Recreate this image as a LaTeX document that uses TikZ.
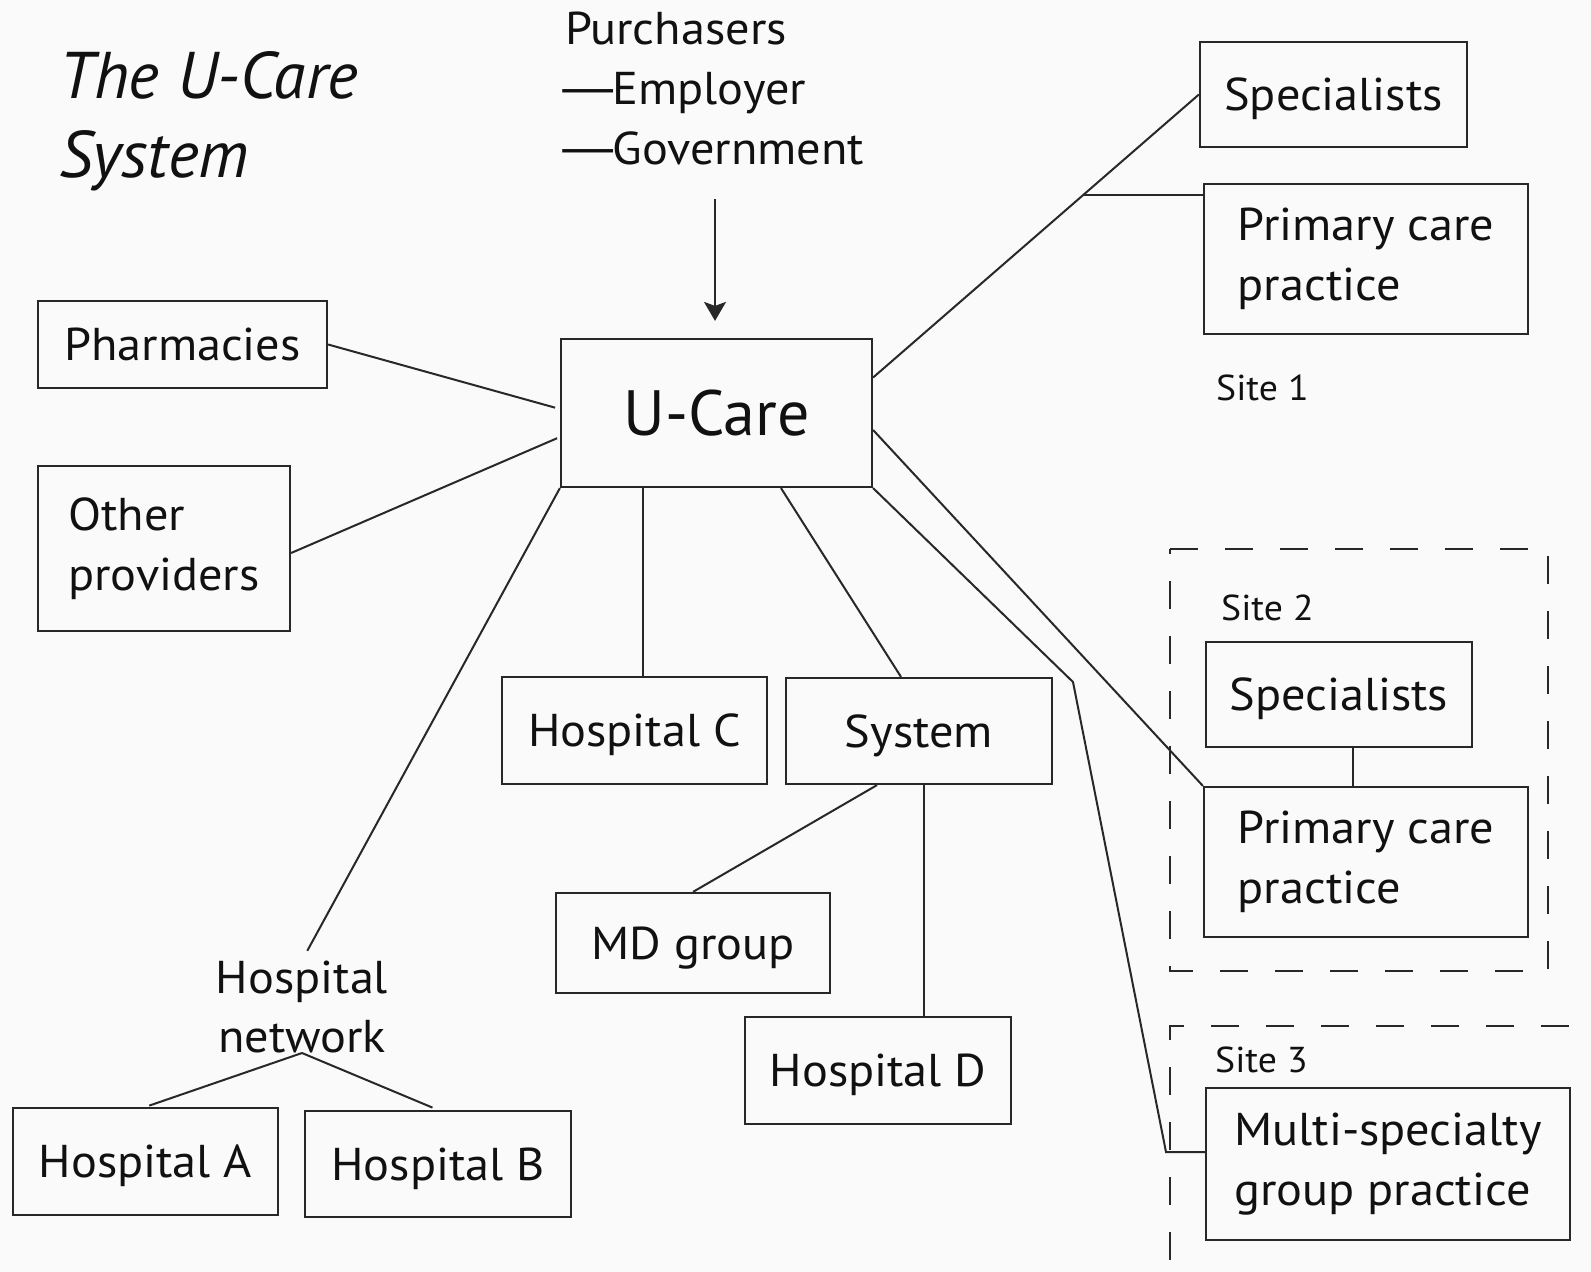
\documentclass[tikz,border=0pt]{standalone}
\usepackage{fontspec}
\usepackage{graphicx}
\setmainfont{PT Sans}[FakeStretch=1.05]
\newfontfamily\plainfam{PT Sans}
\usetikzlibrary{arrows.meta,calc}
\definecolor{ink}{RGB}{40,40,40}
\definecolor{txt}{RGB}{17,17,17}
\definecolor{paper}{RGB}{250,250,250}
\newcommand\bodyfont{\fontsize{46}{60}\selectfont}
\newcommand\sitefont{\fontsize{36}{43}\selectfont}
\newcommand\titlefont{\plainfam\itshape\fontsize{66}{79}\selectfont}
\newcommand\bigfont{\plainfam\fontsize{64}{77}\selectfont}
\newcommand\longdash{\kern-13pt\scalebox{1.8}[1]{—}\kern-11pt}
\begin{document}
\begin{tikzpicture}[x=1pt,y=-1pt,
  every node/.style={inner sep=0pt, text=txt},
  box/.style={draw=ink, line width=2.2pt, font=\bodyfont, align=left},
  oneline/.style={text height=32pt, text depth=0pt},
  link/.style={draw=ink, line width=2pt},
  site/.style={draw=ink, line width=2pt, dash pattern=on 28pt off 27pt},
  sitelabel/.style={font=\sitefont, anchor=base west},
  tip/.style={-{Stealth[length=19pt,width=22pt,inset=4pt]}}
]
% page
\useasboundingbox (0,0) rectangle (1591,1272);
\fill[paper] (0,0) rectangle (1591,1272);

% title and purchasers
\node[font=\titlefont, align=left, anchor=north west] (title) at (59,51) {The U-Care\\System};
\node[font=\bodyfont, align=left, anchor=north west] (purch) at (565,12) {Purchasers\\\longdash Employer\\\longdash Government};

% central plan
\node[box, font=\bigfont, text height=45pt, text depth=0pt, minimum width=311pt, minimum height=148pt] (ucare) at (716.5,413) {U-Care};

% left side
\node[box, oneline, minimum width=289pt, minimum height=87pt] (pharm) at (182.5,344.5) {Pharmacies};
\node[box, minimum width=252pt, minimum height=165pt] (oth) at (164,548.5) {Other\\providers};

% hospitals and systems
\node[box, oneline, minimum width=265pt, minimum height=107pt] (hosC) at (634.5,730.5) {Hospital C};
\node[box, oneline, minimum width=266pt, minimum height=106pt] (sys) at (919,731) {System};
\node[box, oneline, minimum width=274pt, minimum height=100pt] (mdg) at (693,943) {MD group};
\node[box, oneline, minimum width=266pt, minimum height=107pt] (hosD) at (878,1070.5) {Hospital D};
\node[font=\fontsize{46}{59}\selectfont, align=center, anchor=south] (hnet) at (302,1053) {Hospital\\network};
\node[box, oneline, minimum width=265pt, minimum height=107pt] (hosA) at (145.5,1161.5) {Hospital A};
\node[box, oneline, minimum width=266pt, minimum height=106pt] (hosB) at (438,1164) {Hospital B};

% sites
\node[box, oneline, minimum width=267pt, minimum height=105pt] (spec1) at (1333.5,94.5) {Specialists};
\node[box, minimum width=324pt, minimum height=150pt] (prim1) at (1366,259) {Primary care\\practice};
\node[sitelabel] (site1) at (1216,400) {Site 1};

\draw[site] (1170,549) -- (1548,549) -- (1548,971) -- (1170,971) -- cycle;
\node[sitelabel] (site2) at (1221,620) {Site 2};
\node[box, oneline, minimum width=266pt, minimum height=105pt] (spec2) at (1339,694.5) {Specialists};
\node[box, minimum width=324pt, minimum height=150pt] (prim2) at (1366,862) {Primary care\\practice};

\draw[site, dash phase=33pt] (1591,1026) -- (1170,1026) -- (1170,1272);
\node[sitelabel] (site3) at (1215,1072) {Site 3};
\node[box, minimum width=364pt, minimum height=152pt] (multi) at (1388,1164) {Multi-specialty\\group practice};

% purchasers pay into the plan
\coordinate (arrtop) at (715,199);
\draw[link, tip, shorten >=17pt] (arrtop) -- (arrtop |- ucare.north);

% connectors on the left
\draw[link, shorten >=5pt] (pharm.east) -- ([yshift=4pt]ucare.west);
\draw[link, shorten >=3pt] ([yshift=-4.5pt]oth.east) -- ([yshift=-24pt]ucare.west);

% hospital network
\draw[link, shorten >=11pt] (ucare.south west) -- (hnet.north);
\draw[link, shorten >=4pt] (hnet.south) -- (hosA.north);
\draw[link, shorten >=6pt] (hnet.south) -- (hosB.north);

% hospital C and the system
\draw[link] ([xshift=8.5pt]hosC.north) -- ([xshift=8.5pt]hosC.north |- ucare.south);
\draw[link] ([xshift=64.5pt]ucare.south) -- ([xshift=-18pt]sys.north);
\draw[link] ([xshift=-42pt]sys.south) -- (mdg.north);
\draw[link] ([xshift=5pt]sys.south) -- ([xshift=5pt]sys.south |- hosD.north);

% site 1
\coordinate (u1) at ([yshift=35.5pt]ucare.east);
\draw[link] (u1) -- (spec1.west);
\coordinate (j1) at ($(u1)!0.646!(spec1.west)$);
\draw[link] (j1) -- (j1 -| prim1.west);

% site 2
\draw[link] ([yshift=-17pt]ucare.east) -- (prim2.north west);
\draw[link] ([xshift=14pt]spec2.south) -- ([xshift=14pt]spec2.south |- prim2.north);

% site 3
\coordinate (bend1) at (1073,682);
\coordinate (bend2) at (1166,1152);
\draw[link] (ucare.south east) -- (bend1) -- (bend2) -- (bend2 -| multi.west);
\end{tikzpicture}
\end{document}
